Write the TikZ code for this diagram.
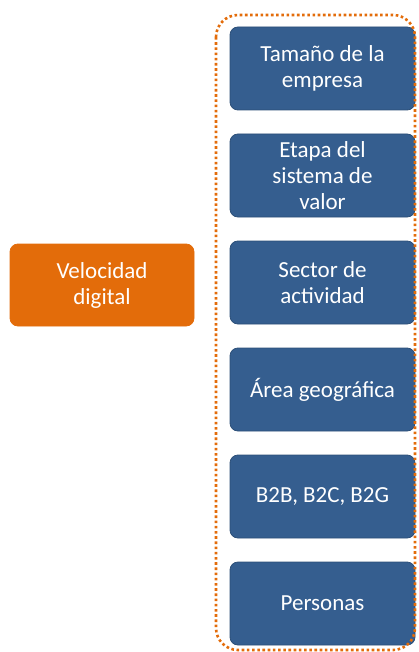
\documentclass[tikz,border=0pt]{standalone}
\usepackage{fontspec}
\setmainfont{Carlito}
\usetikzlibrary{positioning}
\definecolor{boxblue}{HTML}{355E8F}
\definecolor{boxline}{HTML}{2C4F78}
\definecolor{dorange}{HTML}{E36C0A}
\tikzstyle{factor}=[draw=boxline,line width=.8pt,fill=boxblue,rounded corners=8pt,minimum width=185pt,minimum height=83pt,inner sep=0pt,outer sep=0pt,text=white,align=center,font=\fontsize{23}{26}\selectfont]
\tikzstyle{speed}=[factor,draw=dorange,fill=dorange,minimum width=184pt,minimum height=82pt]
\tikzstyle{group}=[draw=dorange,line width=2.6pt,dash pattern=on 2.6pt off 2.6pt,rounded corners=22pt]

\begin{document}
\begin{tikzpicture}[x=1pt,y=-1pt,node distance=24pt]
	\useasboundingbox (0,0) rectangle (418,652);
	\node[factor] (size) at (322.5,68.5) {Tamaño de la\\empresa};
	\node[factor,below=of size] (stage) {Etapa del\\sistema de\\valor};
	\node[factor,below=of stage] (sector) {Sector de\\actividad};
	\node[factor,below=of sector] (area) {Área geográfica};
	\node[factor,below=of area] (market) {B2B, B2C, B2G};
	\node[factor,below=of market] (people) {Personas};
	\node[speed] (velocity) at (102,285) {Velocidad\\digital};
	\draw[group] (216,15) rectangle (415,650);
\end{tikzpicture}
\end{document}
